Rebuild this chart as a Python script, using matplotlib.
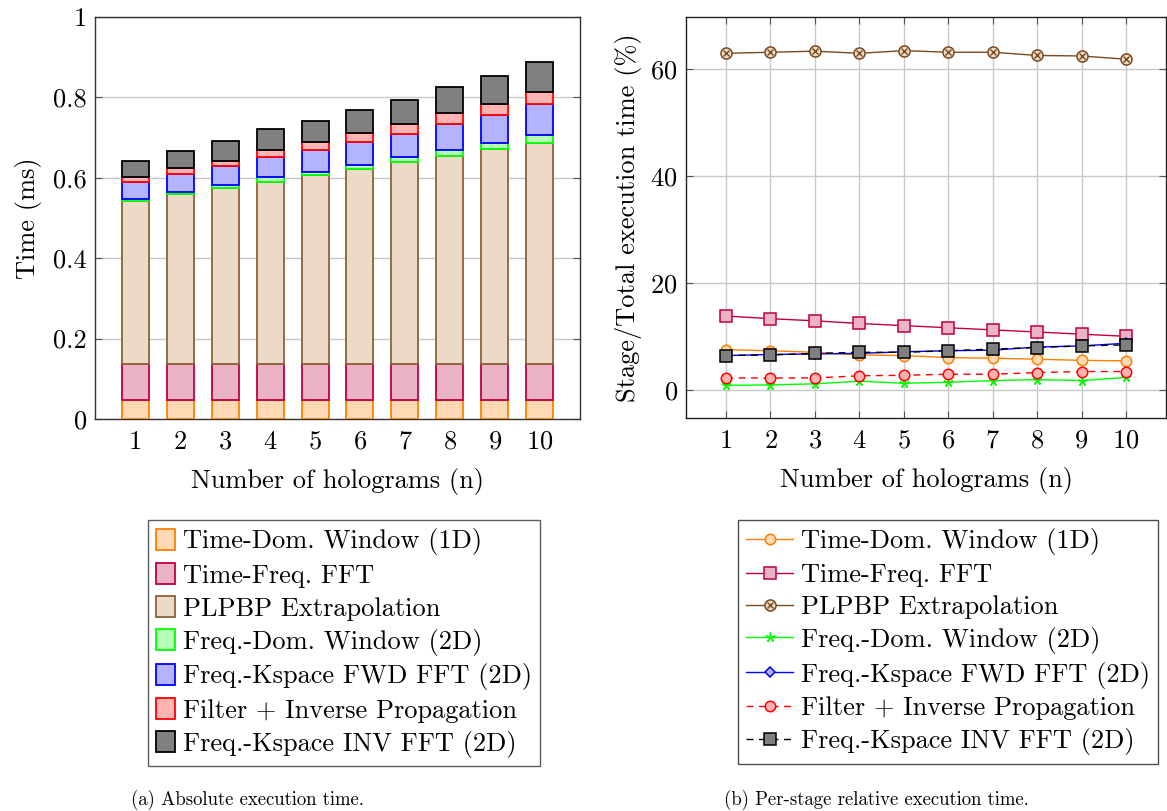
import matplotlib
matplotlib.use("Agg")
import matplotlib.pyplot as plt
import numpy as np
from matplotlib.lines import Line2D
from matplotlib.patches import Patch
from matplotlib.legend_handler import HandlerTuple
from matplotlib import ticker

plt.rcParams['font.family'] = ['cmr10', 'DejaVu Serif']
plt.rcParams['mathtext.fontset'] = 'cm'
plt.rcParams['axes.formatter.use_mathtext'] = True

# ---- data -------------------------------------------------------------
n_holograms = [1, 2, 3, 4, 5, 6, 7, 8, 9, 10]
stage_names = [
    "Time-Dom. Window (1D)",
    "Time-Freq. FFT",
    "PLPBP Extrapolation",
    "Freq.-Dom. Window (2D)",
    "Freq.-Kspace FWD FFT (2D)",
    "Filter + Inverse Propagation",
    "Freq.-Kspace INV FFT (2D)",
]

# absolute time per stage (ms)
t_time_window = [0.047, 0.047, 0.047, 0.047, 0.047, 0.047, 0.047, 0.047, 0.047, 0.047]
t_time_fft = [0.089, 0.089, 0.089, 0.089, 0.089, 0.089, 0.089, 0.089, 0.089, 0.089]
t_plpbp = [0.406, 0.423, 0.438, 0.454, 0.470, 0.485, 0.503, 0.518, 0.535, 0.550]
t_freq_window = [0.005, 0.006, 0.008, 0.013, 0.009, 0.012, 0.013, 0.015, 0.015, 0.021]
t_fwd_fft = [0.042, 0.044, 0.047, 0.049, 0.053, 0.056, 0.058, 0.066, 0.069, 0.077]
t_filter = [0.014, 0.015, 0.014, 0.017, 0.020, 0.022, 0.023, 0.027, 0.029, 0.029]
t_inv_fft = [0.040, 0.043, 0.048, 0.052, 0.053, 0.058, 0.061, 0.065, 0.070, 0.075]

# share of total execution time per stage (%)
p_time_window = [7.5, 7.3, 7.0, 6.5, 6.4, 6.0, 5.9, 5.7, 5.5, 5.4]
p_time_fft = [13.8, 13.3, 12.9, 12.4, 12.0, 11.6, 11.2, 10.8, 10.4, 10.0]
p_plpbp = [63.0, 63.2, 63.4, 63.0, 63.5, 63.2, 63.2, 62.6, 62.5, 61.9]
p_freq_window = [0.8, 0.9, 1.1, 1.6, 1.2, 1.4, 1.7, 1.9, 1.7, 2.3]
p_fwd_fft = [6.4, 6.6, 6.7, 6.8, 7.1, 7.3, 7.4, 8.0, 8.2, 8.7]
p_filter = [2.2, 2.2, 2.2, 2.6, 2.7, 2.9, 2.9, 3.2, 3.4, 3.4]
p_inv_fft = [6.4, 6.5, 6.8, 7.0, 7.0, 7.3, 7.6, 7.9, 8.2, 8.4]

# ---- styling ----------------------------------------------------------
edge_cols = ["#FF8000", "#BF0040", "#8C6239", "#00FF00", "#0000FF", "#FF0000", "#000000"]
fill_cols = ["#FFD9B3", "#ECB3C6", "#ECD9C6", "#B3FFB3", "#B3B3FF", "#FFB3B3", "#808080"]
line_cols = ["#FF8000", "#BF0040", "#7A4A1F", "#00FF00", "#0000FF", "#FF0000", "#000000"]

FS = 19

fig = plt.figure(figsize=(11.67, 8.11), dpi=100)
W, H = 1167, 811

def axes_px(x0, y0, x1, y1):
    return fig.add_axes([x0 / W, 1 - y1 / H, (x1 - x0) / W, (y1 - y0) / H])

# ---- (a) stacked bars -------------------------------------------------
ax1 = axes_px(95, 17, 580, 419)
x = np.array(n_holograms)
abs_series = [t_time_window, t_time_fft, t_plpbp, t_freq_window, t_fwd_fft, t_filter, t_inv_fft]
bottom = np.zeros(len(x))
bar_handles = []
for vals, ec, fc, name in zip(abs_series, edge_cols, fill_cols, stage_names):
    ax1.bar(x, vals, width=0.6, bottom=bottom, color=fc, edgecolor=ec,
            linewidth=1.3, zorder=3)
    bottom = bottom + np.array(vals)
    bar_handles.append(Patch(facecolor=fc, edgecolor=ec, linewidth=1.3, label=name))

ax1.set_xlim(0.11, 10.89)
ax1.set_ylim(0, 1)
ax1.set_xticks(n_holograms)
ax1.set_yticks([0, 0.2, 0.4, 0.6, 0.8, 1.0])
ax1.yaxis.set_major_formatter(ticker.FuncFormatter(lambda v, p: f"{v:g}"))
ax1.yaxis.grid(True, color="#C8C8C8", linewidth=1.0, zorder=0)
ax1.set_axisbelow(True)
ax1.tick_params(axis="y", direction="in", length=5, left=True, right=True,
                color="#555555", labelsize=FS, pad=6)
ax1.tick_params(axis="x", length=0, labelsize=FS, pad=8)
ax1.set_xlabel("Number of holograms (n)", fontsize=FS, labelpad=10)
ax1.set_ylabel("Time (ms)", fontsize=FS, labelpad=8)
for s in ax1.spines.values():
    s.set_color("#333333")
    s.set_linewidth(1.0)

# ---- (b) relative share lines ----------------------------------------
ax2 = axes_px(686, 17, 1166, 418)
rel_series = [p_time_window, p_time_fft, p_plpbp, p_freq_window, p_fwd_fft, p_filter, p_inv_fft]
markers = ["o", "s", "o", (5, 2, 0), "D", "o", "s"]
msizes = [7.5, 8, 8, 7, 5.5, 7.5, 8]
styles = ["-", "-", "-", "-", "-", (0, (5, 4)), (0, (5, 4))]
mfc = [fill_cols[0], fill_cols[1], fill_cols[2], line_cols[3], "#B3B3FF", fill_cols[5], fill_cols[6]]
line_handles = []
for i, vals in enumerate(rel_series):
    ax2.plot(x, vals, linestyle=styles[i], color=line_cols[i], linewidth=1.0,
             marker=markers[i], markersize=msizes[i], markerfacecolor=mfc[i],
             markeredgecolor=line_cols[i], markeredgewidth=1.1, zorder=3 + i)
    h = Line2D([], [], linestyle=styles[i], color=line_cols[i], linewidth=1.0,
               marker=markers[i], markersize=msizes[i], markerfacecolor=mfc[i],
               markeredgecolor=line_cols[i], markeredgewidth=1.1)
    if i == 2:
        # circled cross marker
        ax2.plot(x, vals, linestyle="none", marker="x", markersize=5,
                 markeredgecolor="#7A4A1F", markeredgewidth=1.0, zorder=20)
        hx = Line2D([], [], linestyle="none", marker="x", markersize=5,
                    markeredgecolor="#7A4A1F", markeredgewidth=1.0)
        h = (h, hx)
    line_handles.append(h)

ax2.set_xlim(0.1, 10.9)
ax2.set_ylim(-5.3, 69.8)
ax2.set_xticks(n_holograms)
ax2.set_yticks([0, 20, 40, 60])
ax2.grid(True, color="#C8C8C8", linewidth=1.0, zorder=0)
ax2.set_axisbelow(True)
ax2.tick_params(direction="in", length=5, left=True, right=True, top=True,
                bottom=True, color="#555555", labelsize=FS)
ax2.tick_params(axis="x", pad=8)
ax2.tick_params(axis="y", pad=6)
ax2.set_xlabel("Number of holograms (n)", fontsize=FS, labelpad=10)
ax2.set_ylabel("Stage/Total execution time (%)", fontsize=FS, labelpad=6)
for s in ax2.spines.values():
    s.set_color("#222222")
    s.set_linewidth(1.0)

# ---- legends ----------------------------------------------------------
leg1 = fig.legend(handles=bar_handles, labels=stage_names, loc="upper left",
                  bbox_to_anchor=(148 / W, 1 - 520 / H), fontsize=FS,
                  frameon=True, fancybox=False, edgecolor="#333333",
                  handlelength=0.7, handleheight=0.85, handletextpad=0.3,
                  labelspacing=0.3, borderpad=0.32, borderaxespad=0)
leg1.get_frame().set_linewidth(1.0)

leg2 = fig.legend(handles=line_handles, labels=stage_names, loc="upper left",
                  bbox_to_anchor=(738 / W, 1 - 520 / H), fontsize=FS,
                  frameon=True, fancybox=False, edgecolor="#222222",
                  handlelength=1.75, handletextpad=0.3,
                  labelspacing=0.3, borderpad=0.32, borderaxespad=0,
                  handler_map={tuple: HandlerTuple(ndivide=1, pad=0)})
leg2.get_frame().set_linewidth(1.0)

# ---- captions ---------------------------------------------------------
fig.text(247 / W, 1 - 800 / H, "(a) Absolute execution time.", ha="center",
         va="center", fontsize=13.5)
fig.text(876 / W, 1 - 800 / H, "(b) Per-stage relative execution time.",
         ha="center", va="center", fontsize=13.5)

fig.savefig("out.png", dpi=100)
